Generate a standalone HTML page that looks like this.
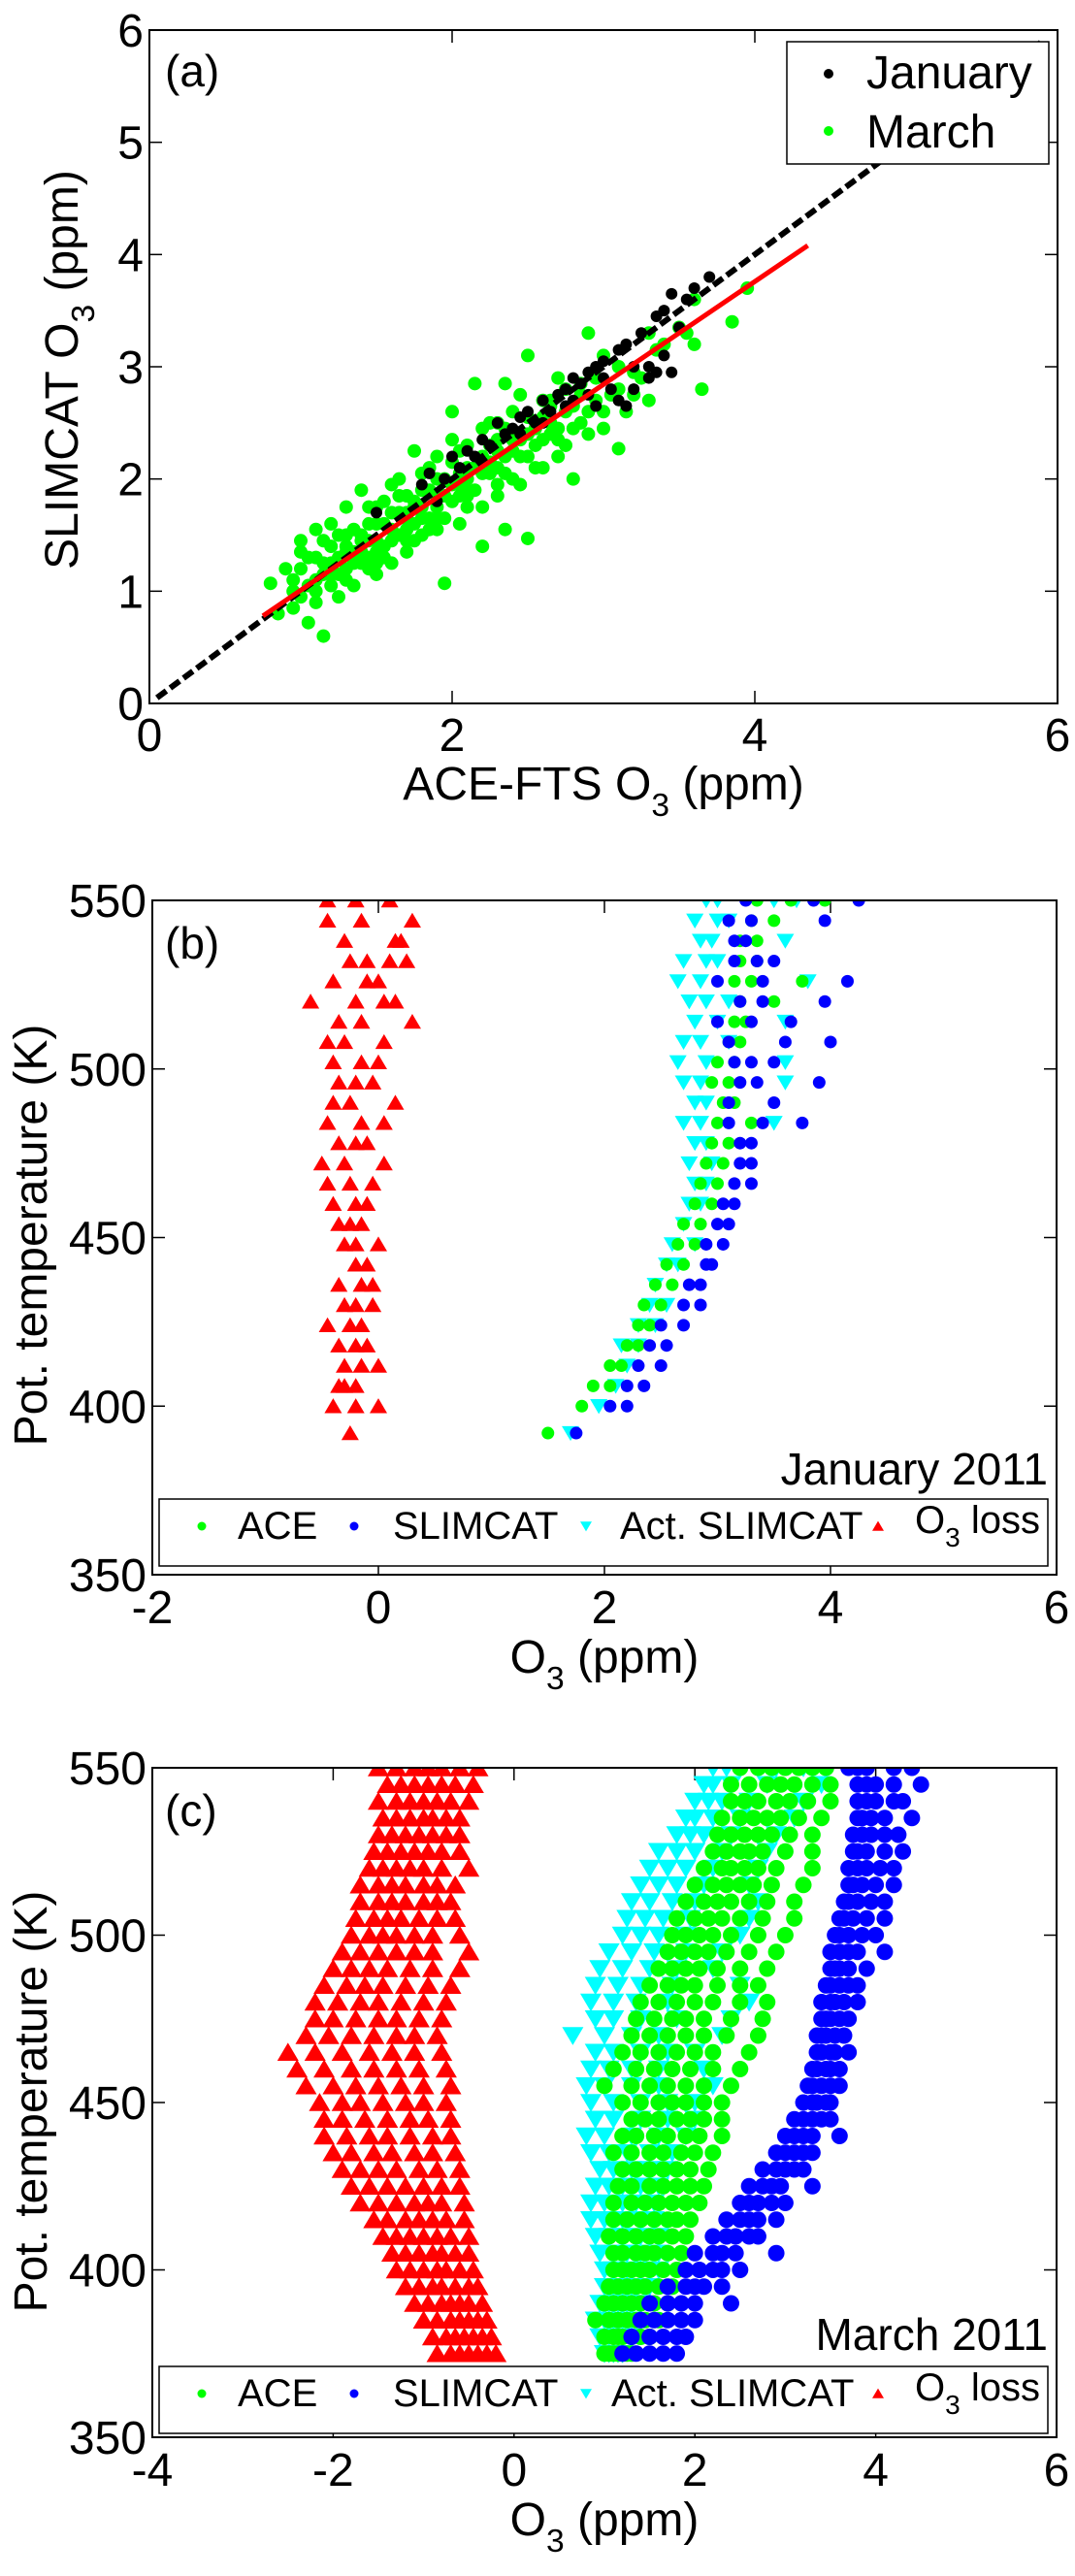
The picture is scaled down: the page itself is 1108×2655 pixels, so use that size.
<!DOCTYPE html>
<html><head><meta charset="utf-8"><style>
html,body{margin:0;padding:0;background:#fff;}
svg{display:block;font-family:"Liberation Sans",Arial,sans-serif;}
</style></head><body>
<svg id="fig" width="1108" height="2655" viewBox="0 0 1108 2655" xmlns="http://www.w3.org/2000/svg"></svg>
<script>
// ---------- Panel (a) data ----------
const aTicks = [0,2,4,6];
const aYTicks = [0,1,2,3,4,5,6];
const aMarch = [[0.8,1.07],[0.85,0.8],[0.9,1.2],[0.95,0.85],[0.95,1.1],[1.0,1.45],[1.0,0.95],[1.0,1.2],[1.05,0.72],[1.05,1.3],[1.1,1.1],[1.1,1.55],[1.1,0.9],[1.15,1.25],[1.15,0.6],[1.2,1.4],[1.2,1.05],[1.2,1.6],[1.25,1.3],[1.25,0.95],[1.3,1.5],[1.3,1.2],[1.3,1.75],[1.35,1.35],[1.35,1.05],[1.4,1.9],[1.4,1.5],[1.4,1.25],[1.45,1.6],[1.45,1.3],[1.5,1.45],[1.5,1.75],[1.5,1.15],[1.55,1.8],[1.55,1.4],[1.6,1.95],[1.6,1.55],[1.6,1.25],[1.65,1.7],[1.65,2.0],[1.7,1.55],[1.7,1.85],[1.7,1.35],[1.75,2.25],[1.75,1.6],[1.8,1.9],[1.8,1.5],[1.8,1.75],[1.85,2.1],[1.85,1.65],[1.9,1.85],[1.9,2.2],[1.9,1.55],[1.95,2.0],[1.95,1.07],[2.0,2.6],[2.0,1.8],[2.0,2.15],[2.05,1.95],[2.05,1.6],[2.1,2.3],[2.1,2.0],[2.1,1.75],[2.15,2.85],[2.15,1.9],[2.2,2.2],[2.2,1.4],[2.2,2.45],[2.25,2.05],[2.25,2.3],[2.3,2.5],[2.3,2.1],[2.3,1.85],[2.35,2.85],[2.35,1.55],[2.4,2.35],[2.4,2.0],[2.4,2.6],[2.45,2.2],[2.45,2.75],[2.5,3.1],[2.5,2.4],[2.5,1.47],[2.55,2.1],[2.6,2.7],[2.6,2.35],[2.65,2.5],[2.7,2.9],[2.7,2.2],[2.75,2.6],[2.8,2.0],[2.8,2.45],[2.85,2.75],[2.9,2.6],[2.9,3.3],[3.0,2.45],[3.0,3.1],[3.1,2.27],[3.1,2.8],[3.2,2.75],[3.3,3.3],[3.4,3.2],[3.5,3.35],[3.6,3.2],[3.65,2.8],[3.85,3.4],[3.95,3.7],[1.2,1.15],[1.4,1.45],[1.7,1.7],[1.95,1.85],[2.3,2.25],[2.55,2.45],[2.85,2.85],[1.3,1.4],[1.55,1.6],[1.75,1.8],[2.0,1.95],[2.2,2.05],[2.6,2.55],[1.1,1.3],[1.45,1.45],[1.65,1.5],[1.9,1.75],[2.1,2.1],[2.45,2.35],[2.75,2.8],[1.05,1.05],[1.35,1.55],[1.6,1.7],[1.85,1.9],[2.05,1.85],[2.35,2.2],[2.65,2.4],[0.95,1.0],[1.25,1.15],[1.5,1.35],[1.8,1.65],[2.25,2.15],[2.95,2.7],[3.2,2.95],[3.35,3.15],[3.55,3.3],[3.6,3.6],[1.0,1.35],[1.15,1.45],[1.2,1.25],[1.25,1.5],[1.3,1.1],[1.35,1.25],[1.4,1.35],[1.45,1.75],[1.5,1.6],[1.55,1.3],[1.6,1.45],[1.65,1.85],[1.7,1.65],[1.75,1.45],[1.8,2.05],[1.85,1.55],[1.9,2.0],[1.95,1.65],[2.0,2.35],[2.05,2.25],[2.1,1.9],[2.15,2.1],[2.2,1.75],[2.25,2.5],[2.3,2.35],[2.35,2.05],[2.4,2.25],[2.45,1.95],[2.5,2.55],[2.55,2.3],[2.6,2.1],[2.65,2.65],[2.7,2.45],[2.75,2.3],[2.8,2.65],[2.85,2.5],[2.9,2.4],[2.95,2.9],[3.0,2.6],[3.05,2.75],[3.1,3.0],[3.15,2.6],[3.25,2.9],[3.3,2.7],[1.1,1.0],[1.3,1.35],[1.5,1.25],[1.7,1.45],[1.9,1.65],[2.1,1.85],[2.3,1.95],[2.5,2.2],[2.7,2.35],[1.15,1.15],[1.45,1.2],[1.75,1.75],[2.05,2.05],[2.35,2.45],[2.65,2.7]];
const aJanuary = [[1.5,1.7],[1.8,1.95],[1.85,2.05],[1.9,1.8],[1.95,2.0],[2.0,2.2],[2.05,2.1],[2.1,2.25],[2.15,2.2],[2.2,2.35],[2.25,2.3],[2.3,2.5],[2.35,2.4],[2.4,2.45],[2.45,2.55],[2.5,2.6],[2.55,2.5],[2.6,2.7],[2.65,2.6],[2.7,2.75],[2.75,2.8],[2.8,2.7],[2.8,2.9],[2.85,2.85],[2.9,2.95],[2.9,2.75],[2.95,3.0],[3.0,2.9],[3.0,3.05],[3.05,2.8],[3.1,3.15],[3.1,2.7],[3.15,3.2],[3.2,3.0],[3.2,2.8],[3.25,3.3],[3.3,3.0],[3.3,2.9],[3.35,3.45],[3.4,3.1],[3.4,3.5],[3.45,2.95],[3.45,3.65],[3.5,3.35],[3.55,3.6],[3.6,3.7],[3.7,3.8],[2.95,2.65],[3.15,2.65],[2.6,2.5],[2.45,2.4],[2.2,2.15],[2.75,2.65],[3.35,2.95]];
const aFitStart = [0.75,0.78];
const aFitEnd = [4.35,4.08];
const aOneToOne = [0.05,5.9];

// ---------- Panel (b) data ----------
const bXTicks = [-2,0,2,4,6];
const thTicks = [350,400,450,500,550];
const bLev = [392,400,406,412,418,424,430,436,442,448,454,460,466,472,478,484,490,496,502,508,514,520,526,532,538,544,550];
const bLoss = [[-0.25],[-0.4,0.0,-0.2],[-0.3,-0.2,-0.35],[-0.3,0.0,-0.15],[-0.35,-0.1,-0.2],[-0.45,-0.25,-0.15],[-0.3,-0.05,-0.2],[-0.35,-0.15,-0.05],[-0.2,-0.1],[-0.3,0.0,-0.2],[-0.35,-0.25,-0.15],[-0.4,-0.2,-0.1],[-0.45,-0.05,-0.25],[-0.5,-0.3,0.05],[-0.35,-0.2,-0.1],[-0.45,-0.15,0.05],[-0.4,-0.25,0.15],[-0.35,-0.2,-0.05],[-0.4,-0.15,0.0],[-0.45,-0.3,0.05],[-0.35,-0.15,0.3],[-0.6,-0.2,0.05,0.15],[-0.4,-0.1,0.0],[-0.25,-0.1,0.1,0.25],[-0.3,0.15,0.2],[-0.45,-0.15,0.3],[-0.45,-0.2,0.1]];
const bAce = [[1.5],[1.8],[1.9,2.05],[2.05,2.15],[2.2,2.3],[2.3,2.4],[2.35,2.5],[2.45,2.6],[2.55,2.7],[2.65,2.8],[2.7,2.85],[2.8,2.95],[2.85,3.0],[2.9,3.05],[2.95,3.1],[3.0,3.3],[3.05,3.15],[2.95,3.1],[3.0,3.15],[3.1,3.2],[3.15,3.25],[3.2,3.5],[3.15,3.3,3.75],[3.2,3.35],[3.2,3.35],[3.3,3.5],[3.35,3.65,3.95]];
const bSlim = [[1.75],[2.05,2.2],[2.2,2.35],[2.3,2.5],[2.4,2.55],[2.5,2.7],[2.7,2.85],[2.75,2.85],[2.9,2.95],[2.9,3.05],[3.0,3.1],[3.05,3.15],[3.15,3.3],[3.2,3.3],[3.2,3.3],[3.1,3.4,3.75],[3.1,3.5],[3.2,3.35,3.9],[3.15,3.3,3.5],[3.1,3.6,4.0],[3.0,3.3,3.65],[3.2,3.4,3.95],[3.0,3.4,4.15],[3.15,3.35,3.5],[3.15,3.25],[3.1,3.3,3.95],[3.25,3.85,4.25]];
const bAct = [[1.7],[1.95],[2.1],[2.2],[2.3,2.15],[2.3,2.45],[2.4,2.55],[2.45],[2.55,2.65],[2.6,2.8],[2.7],[2.75,2.85],[2.8,2.9],[2.75,2.95],[2.8,2.9],[2.7,2.85,3.5],[2.8,2.9],[2.7,2.85,3.6],[2.65,2.9,3.6],[2.7,2.85,3.1],[2.8,3.0,3.6],[2.75,2.9,3.1],[2.65,2.85,3.8],[2.7,2.9,3.0],[2.85,2.95,3.6],[2.8,3.0,3.1],[2.9,3.0,3.5,3.7]];

// ---------- Panel (c) data ----------
const cXTicks = [-4,-2,0,2,4,6];
const cLev = [375,380,385,390,395,400,405,410,415,420,425,430,435,440,445,450,455,460,465,470,475,480,485,490,495,500,505,510,515,520,525,530,535,540,545,550];
const cLoss = [[-0.85,-0.7,-0.6,-0.5,-0.4,-0.3,-0.2],[-0.9,-0.75,-0.65,-0.55,-0.45,-0.35,-0.25],[-1.0,-0.85,-0.7,-0.6,-0.5,-0.4,-0.3],[-1.1,-0.95,-0.8,-0.7,-0.6,-0.5,-0.35],[-1.2,-1.05,-0.9,-0.8,-0.65,-0.5,-0.4],[-1.3,-1.15,-1.0,-0.85,-0.75,-0.6,-0.45],[-1.35,-1.2,-1.05,-0.9,-0.8,-0.65,-0.5],[-1.45,-1.3,-1.15,-1.0,-0.85,-0.7,-0.5],[-1.55,-1.4,-1.2,-1.05,-0.9,-0.75,-0.55],[-1.7,-1.5,-1.3,-1.1,-0.95,-0.8,-0.55],[-1.8,-1.6,-1.4,-1.2,-1.0,-0.8,-0.6],[-1.9,-1.7,-1.5,-1.3,-1.05,-0.85,-0.6],[-2.0,-1.8,-1.55,-1.35,-1.1,-0.9,-0.65],[-2.1,-1.85,-1.6,-1.4,-1.15,-0.9,-0.7],[-2.1,-1.9,-1.65,-1.4,-1.15,-0.95,-0.7],[-2.15,-1.9,-1.7,-1.45,-1.2,-1.0,-0.75],[-2.3,-2.0,-1.75,-1.5,-1.25,-1.0,-0.7],[-2.4,-2.1,-1.8,-1.55,-1.3,-1.05,-0.75],[-2.5,-2.2,-1.9,-1.6,-1.35,-1.1,-0.8],[-2.3,-2.05,-1.8,-1.55,-1.3,-1.1,-0.85],[-2.2,-2.0,-1.75,-1.5,-1.3,-1.05,-0.8],[-2.2,-1.95,-1.7,-1.5,-1.25,-1.0,-0.75],[-2.1,-1.85,-1.65,-1.45,-1.2,-0.95,-0.7],[-2.0,-1.8,-1.6,-1.4,-1.15,-0.9,-0.6],[-1.9,-1.7,-1.5,-1.3,-1.1,-0.9,-0.5],[-1.8,-1.6,-1.45,-1.3,-1.1,-0.9,-0.6],[-1.75,-1.55,-1.4,-1.25,-1.05,-0.85,-0.65],[-1.7,-1.5,-1.35,-1.2,-1.0,-0.85,-0.7],[-1.7,-1.5,-1.35,-1.2,-1.0,-0.85,-0.65],[-1.6,-1.45,-1.3,-1.15,-1.0,-0.8,-0.5],[-1.55,-1.4,-1.25,-1.1,-0.95,-0.8,-0.6],[-1.5,-1.35,-1.2,-1.05,-0.9,-0.75,-0.6],[-1.45,-1.3,-1.15,-1.0,-0.9,-0.75,-0.6],[-1.5,-1.3,-1.15,-1.0,-0.85,-0.7,-0.5],[-1.4,-1.25,-1.1,-0.95,-0.8,-0.65,-0.45],[-1.5,-1.3,-1.1,-0.95,-0.8,-0.6,-0.4]];
const cAce = [[1.0,1.05,1.1,1.15,1.2,1.25,1.3],[1.0,1.1,1.15,1.2,1.3,1.4,1.5],[0.9,1.05,1.15,1.25,1.35,1.45,1.6],[1.0,1.1,1.2,1.3,1.4,1.55,1.7],[1.05,1.15,1.25,1.35,1.45,1.6,1.75],[1.1,1.2,1.3,1.4,1.5,1.65,1.8],[1.1,1.2,1.35,1.45,1.55,1.7,1.85],[1.05,1.2,1.35,1.5,1.6,1.75,1.9],[1.1,1.25,1.4,1.55,1.7,1.8,1.95],[1.1,1.3,1.45,1.6,1.75,1.9,2.05],[1.15,1.3,1.5,1.65,1.8,1.95,2.1],[1.2,1.35,1.5,1.65,1.8,1.95,2.15],[1.1,1.3,1.5,1.65,1.85,2.0,2.2],[1.2,1.35,1.55,1.7,1.9,2.05,2.3],[1.3,1.45,1.6,1.8,1.95,2.1,2.3],[1.2,1.4,1.6,1.75,1.9,2.1,2.3],[1.0,1.3,1.5,1.7,1.9,2.1,2.4],[1.1,1.35,1.55,1.75,1.95,2.2,2.5],[1.2,1.4,1.6,1.8,2.0,2.2,2.6],[1.3,1.5,1.7,1.9,2.1,2.35,2.7],[1.35,1.55,1.75,1.9,2.1,2.4,2.75],[1.4,1.6,1.8,2.0,2.2,2.5,2.8],[1.5,1.7,1.85,2.0,2.25,2.5,2.7],[1.6,1.75,1.9,2.05,2.25,2.5,2.8],[1.7,1.85,2.0,2.15,2.35,2.6,2.9],[1.75,1.9,2.05,2.2,2.4,2.7,3.0],[1.8,2.0,2.15,2.3,2.5,2.75,3.1],[1.9,2.1,2.25,2.4,2.6,2.8,3.1],[2.0,2.2,2.35,2.5,2.65,2.85,3.2],[2.1,2.3,2.4,2.55,2.7,2.9,3.3],[2.2,2.35,2.5,2.6,2.75,3.0,3.3],[2.25,2.4,2.55,2.7,2.85,3.05,3.3],[2.3,2.5,2.65,2.8,2.95,3.15,3.4],[2.4,2.55,2.7,2.9,3.05,3.25,3.5],[2.4,2.6,2.8,2.95,3.1,3.3,3.5],[2.5,2.7,2.85,3.0,3.15,3.3,3.45]];
const cAct = [[1.0,1.05,1.1,1.15,1.2],[0.95,1.05,1.1,1.2,1.3],[0.9,1.0,1.1,1.2,1.3],[0.95,1.05,1.15,1.25,1.4],[1.0,1.1,1.2,1.3,1.5],[1.0,1.1,1.25,1.4,1.6],[0.95,1.1,1.25,1.4,1.6],[0.9,1.05,1.2,1.4,1.6],[0.85,1.0,1.2,1.4,1.55],[0.85,1.0,1.2,1.35,1.55],[0.9,1.05,1.2,1.4,1.6],[0.95,1.1,1.3,1.5,1.7],[0.85,1.05,1.25,1.5,1.75],[0.8,1.0,1.3,1.6,1.9],[0.9,1.1,1.4,1.7,2.0],[0.85,1.1,1.4,1.7,2.0],[0.8,1.0,1.3,1.6,2.2],[0.85,1.05,1.3,1.6,2.1],[0.9,1.1,1.4,1.7,2.0],[0.65,1.0,1.3,1.6,2.3],[0.9,1.1,1.4,1.8,2.4],[0.85,1.1,1.35,1.7,2.6],[0.9,1.15,1.4,1.75,2.5],[0.95,1.2,1.5,1.8,2.2],[1.05,1.3,1.55,1.9,2.3],[1.2,1.4,1.6,1.9,2.5],[1.25,1.45,1.65,1.95,2.6],[1.3,1.5,1.75,2.0,2.7],[1.4,1.6,1.8,2.1,2.6],[1.5,1.7,1.9,2.2,2.7],[1.6,1.8,2.0,2.3,2.8],[1.8,1.95,2.1,2.4,2.9],[1.9,2.0,2.2,2.5,3.1],[2.0,2.15,2.3,2.6,3.2],[2.1,2.2,2.4,2.8,3.4],[2.2,2.35,2.5,2.9,3.2]];
const cSlim = [[1.2,1.35,1.5,1.65,1.8],[1.3,1.5,1.65,1.8,1.9],[1.4,1.55,1.7,1.85,2.0],[1.5,1.7,1.85,2.0,2.4],[1.7,1.9,2.0,2.1,2.3],[1.9,2.05,2.2,2.3,2.5],[2.0,2.2,2.3,2.45,2.9],[2.2,2.35,2.45,2.6,2.7],[2.35,2.5,2.6,2.7,2.9],[2.5,2.6,2.7,2.85,3.0],[2.6,2.75,2.85,2.95,3.3],[2.75,2.9,3.0,3.1,3.2],[2.9,3.0,3.1,3.2,3.3],[3.0,3.1,3.2,3.3,3.6],[3.1,3.2,3.3,3.4,3.5],[3.2,3.3,3.35,3.45,3.5],[3.25,3.3,3.4,3.5,3.6],[3.3,3.35,3.45,3.5,3.6],[3.35,3.4,3.5,3.55,3.7],[3.35,3.4,3.45,3.55,3.65],[3.4,3.45,3.5,3.6,3.7],[3.4,3.5,3.55,3.65,3.8],[3.45,3.5,3.6,3.7,3.8],[3.5,3.55,3.6,3.7,3.9],[3.5,3.6,3.7,3.8,4.1],[3.55,3.6,3.7,3.85,4.0],[3.6,3.65,3.75,3.9,4.1],[3.65,3.7,3.8,3.95,4.1],[3.7,3.75,3.85,4.0,4.2],[3.7,3.8,3.9,4.05,4.2],[3.75,3.8,3.9,4.1,4.3],[3.75,3.85,3.95,4.1,4.25],[3.8,3.85,3.95,4.1,4.4],[3.8,3.9,4.0,4.2,4.3],[3.8,3.9,4.0,4.2,4.5],[3.7,3.8,3.9,4.2,4.4]];

const NS = "http://www.w3.org/2000/svg";
const fig = document.getElementById('fig');
function mk(tag, attrs, parent){
  const e = document.createElementNS(NS, tag);
  for (const k in attrs) e.setAttribute(k, attrs[k]);
  (parent||fig).appendChild(e);
  return e;
}
function lin(d0,d1,r0,r1){ return v => r0 + (v-d0)*(r1-r0)/(d1-d0); }

function axes(name, L, R, T, B, fx, fy, xt, yt, xtBase, clipId){
  const g = mk('g', {});
  
  
  const cp = mk('clipPath', {id: clipId}, g);
  mk('rect', {x: L, y: T, width: R-L, height: B-T}, cp);
  xt.forEach(v => {
    const x = fx(v);
    mk('line', {x1:x, x2:x, y1:B, y2:B-13, stroke:'#000', 'stroke-width':1.5}, g);
    mk('line', {x1:x, x2:x, y1:T, y2:T+13, stroke:'#000', 'stroke-width':1.5}, g);
    const t = mk('text', {x:x, y:xtBase, 'font-size':48, 'text-anchor':'middle'}, g);
    t.textContent = v;
    
    
  });
  yt.forEach(v => {
    const y = fy(v);
    mk('line', {x1:L, x2:L+13, y1:y, y2:y, stroke:'#000', 'stroke-width':1.5}, g);
    mk('line', {x1:R, x2:R-13, y1:y, y2:y, stroke:'#000', 'stroke-width':1.5}, g);
    const t = mk('text', {x:L-6, y:y+17, 'font-size':48, 'text-anchor':'end'}, g);
    t.textContent = v;
    
    
  });
  return g;
}
function frame(L,R,T,B){
  const r = mk('rect', {x:L, y:T, width:R-L, height:B-T, fill:'none', stroke:'#000', 'stroke-width':2});
  
  
}
function marker(parent, shape, x, y, color, s){
  if (shape === 'dot') return mk('circle', {cx:x, cy:y, r:s, fill:color}, parent);
  if (shape === 'up') return mk('path', {d:`M${x-s} ${y+s*0.8}L${x+s} ${y+s*0.8}L${x} ${y-s*0.9}Z`, fill:color}, parent);
  return mk('path', {d:`M${x-s} ${y-s*0.8}L${x+s} ${y-s*0.8}L${x} ${y+s*0.9}Z`, fill:color}, parent);
}
function levelSeries(name, lev, vals, fx, fy, shape, color, s, clipId){
  const g = mk('g', {'clip-path':`url(#${clipId})`});
  
  
  lev.forEach((th, i) => {
    vals[i].forEach(v => {
      const m = marker(g, shape, fx(v), fy(th), color, s);
      
      
    });
  });
}
function text(str, x, y, size, anchor, name, rot){
  const t = mk('text', {x:x, y:y, 'font-size':size, 'text-anchor':anchor||'start'});
  if (rot) t.setAttribute('transform', `rotate(-90 ${x} ${y})`);
  
  
  return t;
}
function o3label(t, pre, post, size){
  if (pre) { const a = mk('tspan', {}, t); a.textContent = pre; }
  const o = mk('tspan', {}, t); o.textContent = 'O';
  const s = mk('tspan', {dy: size*0.35, 'font-size': size*0.7}, t); s.textContent = '3';
  const p = mk('tspan', {dy: -size*0.35}, t); p.textContent = post;
}

// ================= Panel (a) =================
(function(){
  const L=154, R=1090, T=31, B=725;
  const fx = lin(0,6,L,R), fy = lin(0,6,B,T);
  axes('panel-a', L, R, T, B, fx, fy, aTicks, aYTicks, 774, 'clipA');
  const g = mk('g', {'clip-path':'url(#clipA)'});
  
  
  aMarch.forEach(p => {
    const m = marker(g, 'dot', fx(p[0]), fy(p[1]), '#00ff00', 7);
    
    
  });
  const gj = mk('g', {'clip-path':'url(#clipA)'});
  
  
  aJanuary.forEach(p => {
    const m = marker(gj, 'dot', fx(p[0]), fy(p[1]), '#000', 6);
    
    
  });
  const d = mk('line', {x1:fx(aOneToOne[0]), y1:fy(aOneToOne[0]), x2:fx(aOneToOne[1]), y2:fy(aOneToOne[1]), stroke:'#000', 'stroke-width':6, 'stroke-dasharray':'12,5', 'clip-path':'url(#clipA)'});
  
  
  const f = mk('line', {x1:fx(aFitStart[0]), y1:fy(aFitStart[1]), x2:fx(aFitEnd[0]), y2:fy(aFitEnd[1]), stroke:'#ff0000', 'stroke-width':5});
  
  
  frame(L,R,T,B);
  text('(a)', 170, 89, 46, 'start', 'panel-a-label').textContent = '(a)';
  const lg = mk('g', {});
  
  
  mk('rect', {x:811, y:43, width:270, height:126, fill:'#fff', stroke:'#000', 'stroke-width':1.5}, lg);
  mk('circle', {cx:854, cy:76, r:5, fill:'#000'}, lg);
  mk('circle', {cx:854, cy:135, r:5, fill:'#00ff00'}, lg);
  const t1 = mk('text', {x:893, y:91, 'font-size':48}, lg); t1.textContent = 'January';
   
  const t2 = mk('text', {x:893, y:152, 'font-size':48}, lg); t2.textContent = 'March';
   
  const xl = text('', (L+R)/2, 824, 48, 'middle', 'x-axis-title-a');
  o3label(xl, 'ACE-FTS ', ' (ppm)', 48);
  const yl = text('', 80, 381, 48, 'middle', 'y-axis-title-a', true);
  o3label(yl, 'SLIMCAT ', ' (ppm)', 48);
})();

function profilePanel(tag, L, R, T, B, xdom, xt, lev, ace, slim, act, loss, s, dateStr, dateBase, tickBase, xlBase, legTop, legBot, actX, ylY){
  const fx = lin(xdom[0], xdom[1], L, R), fy = lin(350, 550, B, T);
  const cid = 'clip' + tag;
  axes('panel-' + tag, L, R, T, B, fx, fy, xt, thTicks, tickBase, cid);
  levelSeries('act-slimcat-' + tag, lev, act, fx, fy, 'down', '#00ffff', s+2.5, cid);
  levelSeries('ace-' + tag, lev, ace, fx, fy, 'dot', '#00ff00', s, cid);
  levelSeries('slimcat-' + tag, lev, slim, fx, fy, 'dot', '#0000ff', s, cid);
  levelSeries('o3-loss-' + tag, lev, loss, fx, fy, 'up', '#ff0000', s+2.5, cid);
  frame(L,R,T,B);
  text('', 170, T+60, 46, 'start', 'panel-' + tag + '-label').textContent = '(' + tag + ')';
  text('', 1080, dateBase, 46, 'end', 'date-label-' + tag).textContent = dateStr;
  const lg = mk('g', {});
  
  
  mk('rect', {x:164, y:legTop, width:916, height:legBot-legTop, fill:'#fff', stroke:'#000', 'stroke-width':1.5}, lg);
  const by = legTop + 41;
  const my = by - 13;
  marker(lg, 'dot', 208, my, '#00ff00', 4.5);
  marker(lg, 'dot', 365, my, '#0000ff', 4.5);
  marker(lg, 'down', 604, my, '#00ffff', 6);
  marker(lg, 'up', 905, my, '#ff0000', 6);
  const e1 = mk('text', {x:245, y:by, 'font-size':40}, lg); e1.textContent = 'ACE';
   
  const e2 = mk('text', {x:405, y:by, 'font-size':40}, lg); e2.textContent = 'SLIMCAT';
   
  const e3 = mk('text', {x:actX, y:by, 'font-size':40}, lg); e3.textContent = 'Act. SLIMCAT';
   
  const e4 = mk('text', {x:943, y:by-6, 'font-size':40}, lg);
   
  o3label(e4, '', ' loss', 40);
  const xl = text('', (L+R)/2, xlBase, 48, 'middle', 'x-axis-title-' + tag);
  o3label(xl, '', ' (ppm)', 48);
  text('', 48, ylY, 48, 'middle', 'y-axis-title-' + tag, true).textContent = 'Pot. temperature (K)';
}

profilePanel('b', 157, 1089, 928, 1623, [-2,6], bXTicks, bLev, bAce, bSlim, bAct, bLoss, 6.5, 'January 2011', 1530, 1673, 1724, 1545, 1614, 639, 1273);
profilePanel('c', 157, 1089, 1822, 2512, [-4,6], cXTicks, cLev, cAce, cSlim, cAct, cLoss, 8.5, 'March 2011', 2422, 2562, 2613, 2439, 2508, 630, 2166);
</script>
</body></html>
